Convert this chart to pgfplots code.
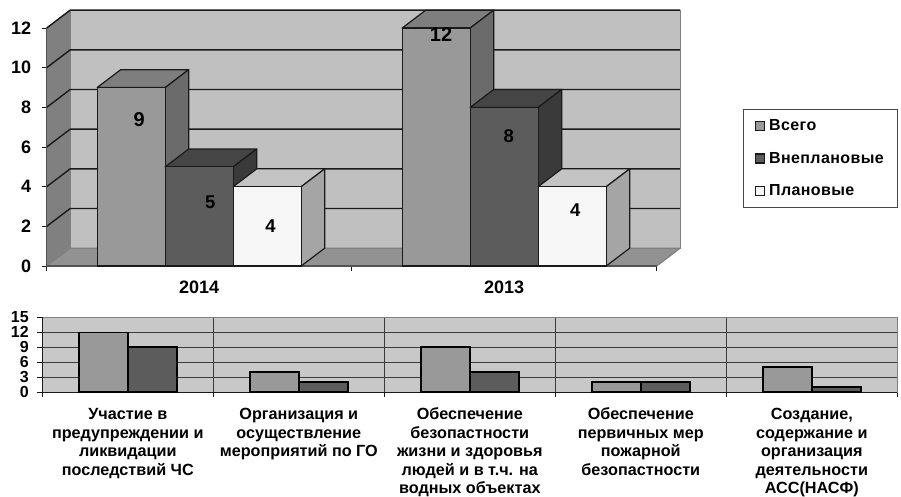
\documentclass[border=0pt]{standalone}
\usepackage{fontspec}
\setmainfont{Liberation Sans}
\usepackage{pgfplots}
\pgfplotsset{compat=1.18}
\definecolor{wallb}{HTML}{C0C0C0}
\definecolor{walls}{HTML}{808080}
\definecolor{flr}{HTML}{929292}
\definecolor{afront}{HTML}{999999}
\definecolor{atop}{HTML}{7E7E7E}
\definecolor{aside}{HTML}{6B6B6B}
\definecolor{bfront}{HTML}{5C5C5C}
\definecolor{btop}{HTML}{454545}
\definecolor{bside}{HTML}{3A3A3A}
\definecolor{cfront}{HTML}{F7F7F7}
\definecolor{ctop}{HTML}{C3C3C3}
\definecolor{cside}{HTML}{A5A5A5}
\definecolor{lowbg}{HTML}{C8C8C8}
\definecolor{ink}{HTML}{1A1A1A}
\pgfplotsset{face/.style={forget plot,draw=ink,line width=1.2pt,line join=round,mark=none}}
\newcommand{\toprule}{\rule{0pt}{13pt}}
\begin{document}
\begin{tikzpicture}[x=1pt,y=1pt]
\path[use as bounding box,fill=white] (0,0) rectangle (901,496);
\begin{axis}[
  at={(46.7pt,230pt)},anchor=south west,
  x=305pt,y=19.83pt,
  xmin=-0.5,xmax=1.577,ymin=0,ymax=12.9,
  clip=false,
  axis line style={draw=none},
  tick align=outside,
  tick style={ink,line width=1pt},
  major tick length=5pt,
  xtick pos=lower,ytick pos=lower,
  ytick={0,2,4,6,8,10,12},
  xtick={-0.5,0.5,1.5},xticklabels={},
  extra x ticks={0,1},
  extra x tick labels={2014,2013},
  extra x tick style={major tick length=0pt,tick style={draw=none}},
  tick label style={font=\fontsize{18}{20}\selectfont\bfseries},
  /pgf/number format/assume math mode=true,
  xticklabel style={yshift=-11pt},
  yticklabel style={xshift=-7pt},
  legend style={at={(1.0987,0.6126)},anchor=north west,draw=ink!80,line width=0.8pt,
    font=\fontsize{16}{18}\selectfont\bfseries\addfontfeature{LetterSpace=2.5},row sep=16pt,inner xsep=12pt,inner ysep=8pt,
    cells={anchor=west}},
]
% walls and floor
\addplot[face,fill=walls,draw=gray] coordinates {(-0.5,0)(-0.5,12)(-0.423,12.9)(-0.423,0.9)} -- cycle;
\addplot[face,fill=wallb,draw=gray] coordinates {(-0.423,0.9)(1.577,0.9)(1.577,12.9)(-0.423,12.9)} -- cycle;
\addplot[face,fill=flr,draw=gray] coordinates {(-0.5,0)(-0.423,0.9)(1.577,0.9)(1.5,0)} -- cycle;
% grid
\addplot[face,unbounded coords=jump,line width=1.4pt] coordinates {
 (-0.5,2)(-0.423,2.9)(1.577,2.9)(-0.5,nan)
 (-0.5,4)(-0.423,4.9)(1.577,4.9)(-0.5,nan)
 (-0.5,6)(-0.423,6.9)(1.577,6.9)(-0.5,nan)
 (-0.5,8)(-0.423,8.9)(1.577,8.9)(-0.5,nan)
 (-0.5,10)(-0.423,10.9)(1.577,10.9)(-0.5,nan)
 (-0.5,12)(-0.423,12.9)(1.577,12.9)};
\addplot[face,gray,line width=1.2pt] coordinates {(1.577,0.9)(1.577,12.9)};
% axis lines
\addplot[face,draw=ink!75,line width=1.4pt] coordinates {(-0.5,12)(-0.5,0)(1.5,0)};
% Всего
\addplot[face,fill=atop] coordinates {(-0.3345,9)(-0.2575,9.9)(-0.0345,9.9)(-0.1115,9)} -- cycle;
\addplot[face,fill=aside] coordinates {(-0.1115,0)(-0.0345,0.9)(-0.0345,9.9)(-0.1115,9)} -- cycle;
\addplot[face,fill=atop] coordinates {(0.6655,12)(0.7425,12.9)(0.9655,12.9)(0.8885,12)} -- cycle;
\addplot[face,fill=aside] coordinates {(0.8885,0)(0.9655,0.9)(0.9655,12.9)(0.8885,12)} -- cycle;
\addplot[ybar,bar width=68pt,bar shift=-68pt,fill=afront,draw=ink,line width=1.2pt,forget plot] coordinates {(0,9)(1,12)};
% Внеплановые
\addplot[face,fill=btop] coordinates {(-0.1115,5)(-0.0345,5.9)(0.1885,5.9)(0.1115,5)} -- cycle;
\addplot[face,fill=bside] coordinates {(0.1115,0)(0.1885,0.9)(0.1885,5.9)(0.1115,5)} -- cycle;
\addplot[face,fill=btop] coordinates {(0.8885,8)(0.9655,8.9)(1.1885,8.9)(1.1115,8)} -- cycle;
\addplot[face,fill=bside] coordinates {(1.1115,0)(1.1885,0.9)(1.1885,8.9)(1.1115,8)} -- cycle;
\addplot[ybar,bar width=68pt,bar shift=0pt,fill=bfront,draw=ink,line width=1.2pt,forget plot] coordinates {(0,5)(1,8)};
% Плановые
\addplot[face,fill=ctop] coordinates {(0.1115,4)(0.1885,4.9)(0.4115,4.9)(0.3345,4)} -- cycle;
\addplot[face,fill=cside] coordinates {(0.3345,0)(0.4115,0.9)(0.4115,4.9)(0.3345,4)} -- cycle;
\addplot[face,fill=ctop] coordinates {(1.1115,4)(1.1885,4.9)(1.4115,4.9)(1.3345,4)} -- cycle;
\addplot[face,fill=cside] coordinates {(1.3345,0)(1.4115,0.9)(1.4115,4.9)(1.3345,4)} -- cycle;
\addplot[ybar,bar width=68pt,bar shift=68pt,fill=cfront,draw=ink,line width=1.2pt,forget plot] coordinates {(0,4)(1,4)};
% data labels
\node[font=\fontsize{20}{22}\selectfont\bfseries] at (axis cs:-0.197,7.4) {9};
\node[font=\fontsize{18.5}{20}\selectfont\bfseries] at (axis cs:0.036,3.23) {5};
\node[font=\fontsize{18.5}{20}\selectfont\bfseries] at (axis cs:0.234,2.02) {4};
\node[font=\fontsize{20}{22}\selectfont\bfseries] at (axis cs:0.793,11.65) {12};
\node[font=\fontsize{18.5}{20}\selectfont\bfseries] at (axis cs:1.015,6.54) {8};
\node[font=\fontsize{18.5}{20}\selectfont\bfseries] at (axis cs:1.233,2.82) {4};
\addlegendimage{legend image code/.code={\draw[fill=afront,draw=ink,line width=1.2pt] (0pt,-4.5pt) rectangle (9pt,4.5pt);\path (11pt,0pt);}}
\addlegendentry{Всего}
\addlegendimage{legend image code/.code={\draw[fill=bfront,draw=ink,line width=1.2pt] (0pt,-4.5pt) rectangle (9pt,4.5pt);\path (11pt,0pt);}}
\addlegendentry{Внеплановые}
\addlegendimage{legend image code/.code={\draw[fill=cfront,draw=ink,line width=1.2pt] (0pt,-4.5pt) rectangle (9pt,4.5pt);\path (11pt,0pt);}}
\addlegendentry{Плановые}
\end{axis}
\begin{axis}[
  at={(42.3pt,104pt)},anchor=south west,
  x=171pt,y=4.98pt,
  xmin=-0.5,xmax=4.5,ymin=0,ymax=15,
  clip=false,
  axis background/.style={fill=lowbg},
  axis line style={draw=gray,line width=1pt},
  tick align=outside,
  tick style={ink,line width=0.9pt},
  major tick length=5pt,
  xtick pos=lower,ytick pos=lower,
  ytick={0,3,6,9,12,15},
  xtick={-0.5,0.5,1.5,2.5,3.5,4.5},xticklabels={},
  grid=major,
  grid style={ink!85,line width=0.9pt},
  extra x ticks={0,1,2,3,4},
  extra x tick labels={{\toprule Участие в\\предупреждении и\\ликвидации\\последствий ЧС},{\toprule Организация и\\осуществление\\мероприятий по ГО},{\toprule Обеспечение\\безопастности\\жизни и здоровья\\людей и в т.ч. на\\водных объектах},{\toprule Обеспечение\\первичных мер\\пожарной\\безопастности},{\toprule Создание,\\содержание и\\организация\\деятельности\\АСС(НАСФ)}},
  extra x tick style={major tick length=0pt,tick style={draw=none},grid=none},
  xticklabel style={align=center,anchor=north,font=\fontsize{16.2}{18.6}\selectfont\bfseries,yshift=-11pt},
  yticklabel style={font=\fontsize{16}{14}\selectfont\bfseries,xshift=-5pt},
  /pgf/number format/assume math mode=true,
]
\addplot[forget plot,draw=ink,line width=1pt] coordinates {(-0.5,15)(-0.5,0)(4.5,0)};
\addplot[ybar,bar width=49pt,bar shift=-24.5pt,fill=afront,draw=black,line width=1.4pt] coordinates {(0,12)(1,4)(2,9)(3,2)(4,5)};
\addplot[ybar,bar width=49pt,bar shift=24.5pt,fill=bfront,draw=black,line width=1.4pt] coordinates {(0,9)(1,2)(2,4)(3,2)(4,1)};
\end{axis}
\end{tikzpicture}
\end{document}
